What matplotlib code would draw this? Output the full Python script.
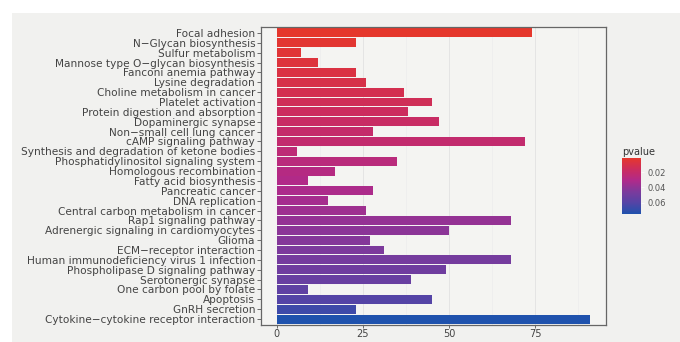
import numpy as np
import matplotlib
matplotlib.use("Agg")
import matplotlib.pyplot as plt
from matplotlib.colors import LinearSegmentedColormap, Normalize
from matplotlib.patches import Rectangle

# pathways, listed top to bottom
pathways = [
    "Focal adhesion", "N\u2212Glycan biosynthesis", "Sulfur metabolism",
    "Mannose type O\u2212glycan biosynthesis", "Fanconi anemia pathway",
    "Lysine degradation", "Choline metabolism in cancer", "Platelet activation",
    "Protein digestion and absorption", "Dopaminergic synapse",
    "Non\u2212small cell lung cancer", "cAMP signaling pathway",
    "Synthesis and degradation of ketone bodies",
    "Phosphatidylinositol signaling system", "Homologous recombination",
    "Fatty acid biosynthesis", "Pancreatic cancer", "DNA replication",
    "Central carbon metabolism in cancer", "Rap1 signaling pathway",
    "Adrenergic signaling in cardiomyocytes", "Glioma",
    "ECM\u2212receptor interaction", "Human immunodeficiency virus 1 infection",
    "Phospholipase D signaling pathway", "Serotonergic synapse",
    "One carbon pool by folate", "Apoptosis", "GnRH secretion",
    "Cytokine\u2212cytokine receptor interaction",
]
counts = [74, 23, 7, 12, 23, 26, 37, 45, 38, 47, 28, 72, 6, 35, 17,
          9, 28, 15, 26, 68, 50, 27, 31, 68, 49, 39, 9, 45, 23, 91]
pvalues = [0.0012, 0.0030, 0.0045, 0.0060, 0.0080, 0.0100, 0.0120, 0.0140,
           0.0160, 0.0180, 0.0200, 0.0215, 0.0240, 0.0260, 0.0280, 0.0300,
           0.0320, 0.0340, 0.0360, 0.0385, 0.0410, 0.0430, 0.0455, 0.0480,
           0.0500, 0.0525, 0.0560, 0.0600, 0.0660, 0.0749]
cbar_ticks = [0.02, 0.04, 0.06]

cmap = LinearSegmentedColormap.from_list(
    "pv", ["#e5372c", "#cc2c5e", "#b02a8a", "#7c3a9c", "#5444a6", "#1f52ad"])
norm = Normalize(vmin=min(pvalues), vmax=max(pvalues))

fig = plt.figure(figsize=(6.8, 3.42), dpi=100)
fig.patch.set_facecolor("white")
W, H = 680, 342
# greyish page behind the plot
page = Rectangle((12 / W, 0), 1 - 12 / W, 1 - 13 / H,
                 transform=fig.transFigure, facecolor="#f1f1ef",
                 edgecolor="none", zorder=-10)
fig.add_artist(page)

ax = fig.add_axes([261 / W, (H - 325) / H, 345 / W, 298 / H])
ax.set_facecolor("#f4f4f2")

n = len(pathways)
ypos = np.arange(n)[::-1]
ax.barh(ypos, counts, height=0.9, color=cmap(norm(pvalues)), zorder=2)

ax.set_xlim(-4.55, 95.55)
ax.set_ylim(-0.6, n - 0.4)
ax.set_xticks([0, 25, 50, 75])
ax.set_xticks([12.5, 37.5, 62.5, 87.5], minor=True)
ax.set_yticks(ypos)
ax.set_yticklabels(pathways)
ax.grid(axis="x", which="major", color="#e2e2e2", linewidth=0.6, zorder=1)
ax.grid(axis="x", which="minor", color="#ebebeb", linewidth=0.4, zorder=1)
ax.tick_params(axis="both", which="major", length=3, width=0.6,
               color="#555555", labelcolor="#444444", labelsize=7.6)
ax.tick_params(axis="y", pad=1.2)
ax.tick_params(axis="x", length=2.5, pad=0.5, labelsize=7)
ax.tick_params(which="minor", length=0)
ax.set_axisbelow(True)
for s in ax.spines.values():
    s.set_color("#666666")
    s.set_linewidth(0.9)

# colour bar legend
cax = fig.add_axes([622 / W, (H - 214) / H, 19 / W, 56 / H])
sm = matplotlib.cm.ScalarMappable(norm=norm, cmap=cmap)
cb = fig.colorbar(sm, cax=cax, ticks=cbar_ticks)
cb.outline.set_visible(False)
cax.invert_yaxis()
cax.tick_params(length=2.5, width=0.5, color="white", labelsize=6,
                labelcolor="#555555", pad=2)
cax.set_yticklabels(["0.02", "0.04", "0.06"])
fig.text(622 / W, (H - 155) / H, "pvalue", fontsize=7, color="#333333",
         ha="left", va="baseline")

fig.savefig("out.png", dpi=100, facecolor=fig.get_facecolor())
